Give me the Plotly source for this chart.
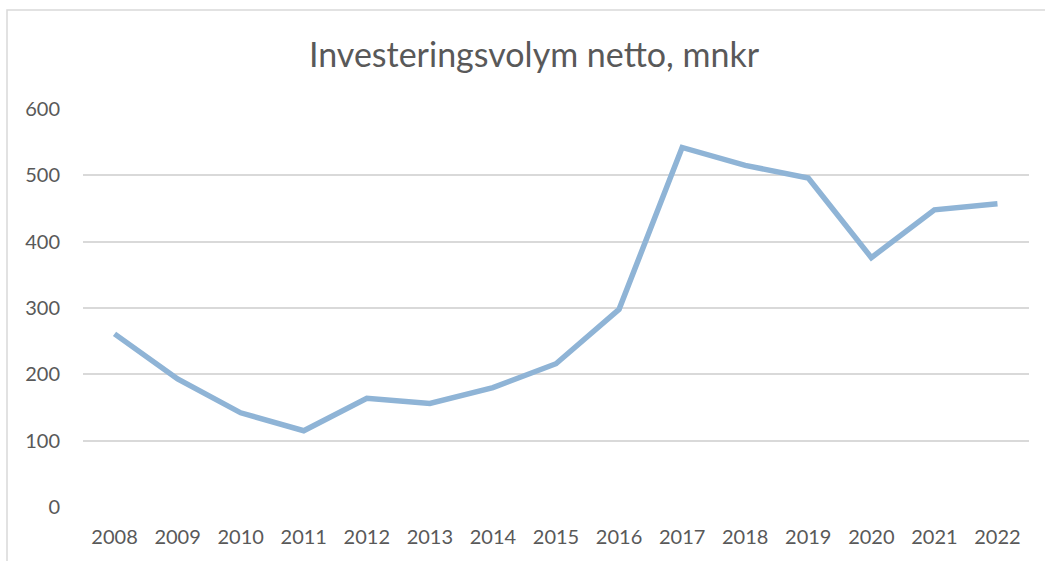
import plotly.graph_objects as go

years = ["2008", "2009", "2010", "2011", "2012", "2013", "2014", "2015",
         "2016", "2017", "2018", "2019", "2020", "2021", "2022"]
values = [261, 193, 142, 115, 164, 156, 180, 216, 298, 542, 515, 496, 376, 448, 457]
y_ticks = [0, 100, 200, 300, 400, 500, 600]

FONT = "Lato, Open Sans, sans-serif"
TXT = "#595959"

fig = go.Figure()
fig.add_trace(go.Scatter(
    x=years, y=values, mode="lines",
    line=dict(color="#8FB4D6", width=5.5),
    hoverinfo="x+y",
))

fig.update_layout(
    width=1045, height=561,
    margin=dict(l=83, r=16, t=109, b=54, autoexpand=False),
    paper_bgcolor="white", plot_bgcolor="white",
    showlegend=False,
    font=dict(family=FONT, color=TXT, size=20),
    title=dict(
        text="Investeringsvolym netto, mnkr",
        x=(534 - 83) / 946, xref="paper", xanchor="center",
        y=1 - 55 / 561, yanchor="middle",
        font=dict(family=FONT, size=34, color=TXT),
    ),
    xaxis=dict(
        type="category", range=[-0.5, len(years) - 0.5],
        showgrid=False, zeroline=False, automargin=False,
        showline=False, ticks="", tickfont=dict(size=20, color=TXT),
        ticklabelstandoff=16,
    ),
    yaxis=dict(
        range=[0, 600], tickvals=y_ticks, showgrid=True, automargin=False,
        gridcolor="#D9D9D9", gridwidth=1.5, zeroline=False,
        showline=False, ticks="", tickfont=dict(size=20, color=TXT),
        ticklabelstandoff=22,
    ),
    shapes=[dict(
        type="rect", xref="paper", yref="paper",
        x0=(7 - 83) / 946, x1=1.2, y0=-0.3, y1=(507 - 10) / 398,
        line=dict(color="#D9D9D9", width=1.5), fillcolor="rgba(0,0,0,0)",
        layer="below",
    )],
)

fig.write_html("out.html", config={"displayModeBar": False},
               post_script="document.body.style.margin='0';")
